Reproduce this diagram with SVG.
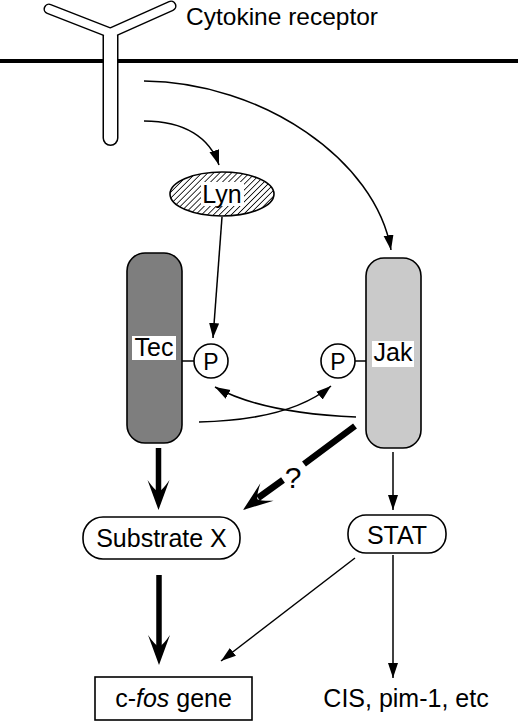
<svg xmlns="http://www.w3.org/2000/svg" width="520" height="723" viewBox="0 0 520 723">
<style>
text{font-family:"Liberation Sans",Arial,sans-serif;fill:#000}
.lbl{font-size:25px;text-anchor:middle}
.thin{fill:none;stroke:#000;stroke-width:1.5}
.thick{fill:none;stroke:#000;stroke-width:5.5}
.box{fill:#fff;stroke:#000;stroke-width:1.6}
</style>
<defs>
<marker id="ah" markerUnits="userSpaceOnUse" markerWidth="16" markerHeight="12" refX="15" refY="5" orient="auto">
<path d="M0,0 L15,5 L0,10 z" fill="#000"/>
</marker>
<path id="th" d="M0,0 L-11,-30 Q-4,-20 0,-18 Q4,-20 11,-30 Z" fill="#000"/>
<pattern id="hatch" patternUnits="userSpaceOnUse" width="4.2" height="4.2" patternTransform="rotate(45)">
<rect width="4.2" height="4.2" fill="#fff"/>
<line x1="0" y1="0" x2="0" y2="4.2" stroke="#000" stroke-width="1.6"/>
</pattern>
</defs>
<rect width="520" height="723" fill="#fff"/>

<g id="membrane">
<line x1="0" y1="61" x2="518" y2="61" stroke="#000" stroke-width="4"/>
</g>

<g id="receptor">
<path d="M49,9 L110.5,33 L171,6" fill="none" stroke="#000" stroke-width="11" stroke-linecap="round" stroke-linejoin="round"/>
<path d="M110.5,36 L110.5,138" fill="none" stroke="#000" stroke-width="16" stroke-linecap="round"/>
<path d="M49,9 L110.5,33 L171,6" fill="none" stroke="#fff" stroke-width="8" stroke-linecap="round" stroke-linejoin="round"/>
<path d="M110.5,36 L110.5,138" fill="none" stroke="#fff" stroke-width="13" stroke-linecap="round"/>
<text x="186" y="25" style="font-size:24.5px">Cytokine receptor</text>
</g>

<g id="connectors">
<path class="thin" d="M144,81 C262,82 376,160 391,250" marker-end="url(#ah)"/>
<path class="thin" d="M144,121 C185,121 210,138 219,165" marker-end="url(#ah)"/>
<path class="thin" d="M222,217 L213,338" marker-end="url(#ah)"/>
<path class="thin" d="M182,361 L194,361"/>
<path class="thin" d="M355,361 L366,361"/>
<path class="thin" d="M199,422 Q290,420 331,386" marker-end="url(#ah)"/>
<path class="thin" d="M356,417 Q262,413 215,387" marker-end="url(#ah)"/>
<path class="thin" d="M393,452 L393,510" marker-end="url(#ah)"/>
<path class="thin" d="M355,558 L221,661" marker-end="url(#ah)"/>
<path class="thin" d="M393,555 L393,678" marker-end="url(#ah)"/>
<path class="thick" d="M158.5,448 L158.5,492"/>
<use href="#th" transform="translate(158.5,510)"/>
<path class="thick" d="M159,575 L159,648"/>
<use href="#th" transform="translate(159,665)"/>
<path d="M355,426 L304,464 M283,480 L258,498" fill="none" stroke="#000" stroke-width="6.5"/>
<use href="#th" transform="translate(243,510) rotate(53.13)"/>
<text x="293" y="488" class="lbl" style="font-size:30px">?</text>
</g>

<g id="lyn">
<ellipse cx="222" cy="194" rx="52" ry="22" fill="url(#hatch)" stroke="#000" stroke-width="1.6"/>
<rect x="201" y="182" width="43" height="24" fill="#fff"/>
<text x="222" y="203" class="lbl">Lyn</text>
</g>

<g id="tec">
<rect x="127" y="253" width="55" height="190" rx="18" fill="#7e7e7e" stroke="#000" stroke-width="1.6"/>
<rect x="132" y="336" width="44" height="24" fill="#fff"/>
<text x="154" y="356" class="lbl">Tec</text>
</g>

<g id="p-left">
<circle cx="211" cy="361" r="17" class="box"/>
<text x="211" y="369.5" class="lbl" style="font-size:23px">P</text>
</g>

<g id="p-right">
<circle cx="338" cy="361" r="17" class="box"/>
<text x="338" y="369.5" class="lbl" style="font-size:23px">P</text>
</g>

<g id="jak">
<rect x="366" y="258" width="55" height="190" rx="18" fill="#cacaca" stroke="#000" stroke-width="1.6"/>
<rect x="372" y="341" width="42" height="26" fill="#fff"/>
<text x="393" y="361" class="lbl">Jak</text>
</g>

<g id="substrate-x">
<rect x="83" y="517" width="157" height="42" rx="20" class="box"/>
<text x="161.5" y="547" class="lbl">Substrate X</text>
</g>

<g id="stat">
<rect x="348" y="515" width="98" height="38" rx="18" class="box"/>
<text x="397" y="544" class="lbl">STAT</text>
</g>

<g id="cfos">
<rect x="95" y="677" width="157" height="43" class="box"/>
<text x="173.5" y="707" class="lbl">c-<tspan font-style="italic">fos</tspan> gene</text>
</g>

<g id="cis">
<text x="406" y="707" class="lbl">CIS, pim-1, etc</text>
</g>
</svg>
